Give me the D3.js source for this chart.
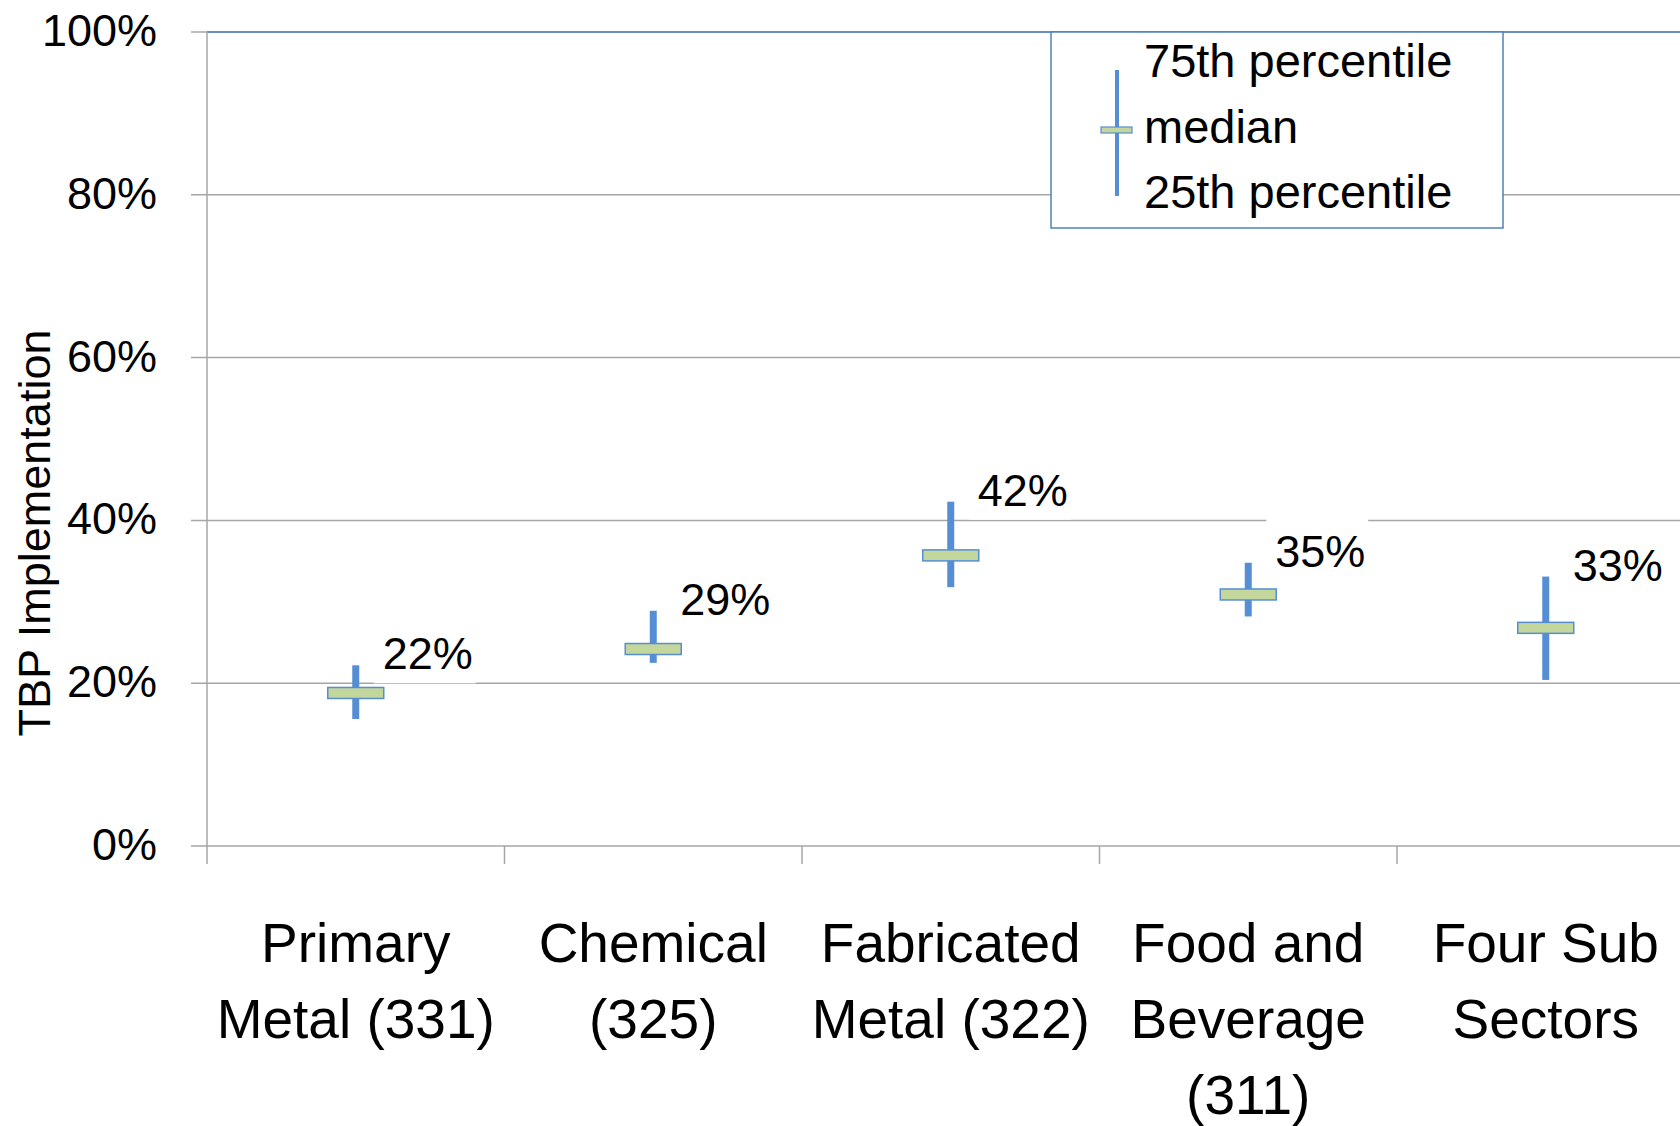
<!DOCTYPE html>
<html>
<head>
<meta charset="utf-8">
<script src="https://cdn.jsdelivr.net/npm/d3@7"></script>
<style>
  body { margin: 0; background: #fff; }
  svg { display: block; font-family: "Liberation Sans", Arial, sans-serif; }
  .grid line { stroke: #a6a6a6; stroke-width: 1.5; }
</style>
</head>
<body>
<script>
// chart values
var categories = ["Primary Metal (331)", "Chemical (325)", "Fabricated Metal (322)", "Food and Beverage (311)", "Four Sub Sectors"];
var categoryLines = [["Primary", "Metal (331)"], ["Chemical", "(325)"], ["Fabricated", "Metal (322)"], ["Food and", "Beverage", "(311)"], ["Four Sub", "Sectors"]];
var p75 = [0.222, 0.289, 0.423, 0.348, 0.331];
var median = [0.188, 0.242, 0.357, 0.309, 0.268];
var p25 = [0.156, 0.225, 0.318, 0.282, 0.204];
var yTicks = [0, 0.2, 0.4, 0.6, 0.8, 1];
var legendLabels = ["75th percentile", "median", "25th percentile"];

var data = categories.map(function(c, i) {
  return {cat: c, lines: categoryLines[i], hi: p75[i], mid: median[i], lo: p25[i]};
});

var W = 1680, H = 1126;
var margin = {top: 32, left: 207, bottom: 280};
var plotW = 297.5 * categories.length,
    plotH = H - margin.top - margin.bottom;

var x = d3.scaleBand().domain(categories).range([0, plotW]);
var y = d3.scaleLinear().domain([0, 1]).range([plotH, 0]);
var pct = d3.format(".0%");

var svg = d3.select("body").append("svg")
    .attr("width", W)
    .attr("height", H);

svg.append("rect").attr("width", W).attr("height", H).attr("fill", "#fff");

var g = svg.append("g")
    .attr("transform", "translate(" + margin.left + "," + margin.top + ")");

// gridlines + left ticks
var grid = g.append("g").attr("class", "grid");
grid.selectAll("line")
    .data(yTicks)
  .enter().append("line")
    .attr("x1", -16)
    .attr("x2", plotW)
    .attr("y1", function(d) { return y(d); })
    .attr("y2", function(d) { return y(d); });

// top border is blue in the original
g.append("line")
    .attr("x1", 0).attr("x2", plotW)
    .attr("y1", y(1)).attr("y2", y(1))
    .attr("stroke", "#4f81bd").attr("stroke-width", 1.5);

g.selectAll(".ylab")
    .data(yTicks)
  .enter().append("text")
    .attr("class", "ylab")
    .attr("x", -50)
    .attr("y", function(d) { return y(d) + 14; })
    .attr("text-anchor", "end")
    .style("font-size", "45px")
    .attr("fill", "#000")
    .text(pct);

// y axis line
g.append("line")
    .attr("x1", 0).attr("x2", 0)
    .attr("y1", 0).attr("y2", plotH)
    .attr("stroke", "#a6a6a6").attr("stroke-width", 1.5);

// x axis ticks at category boundaries
var bounds = categories.map(function(c) { return x(c); });
g.selectAll(".xtick")
    .data(bounds)
  .enter().append("line")
    .attr("class", "xtick")
    .attr("x1", function(d) { return d; })
    .attr("x2", function(d) { return d; })
    .attr("y1", plotH)
    .attr("y2", plotH + 18)
    .attr("stroke", "#a6a6a6").attr("stroke-width", 1.5);

// category labels
var catG = g.selectAll(".cat")
    .data(data)
  .enter().append("text")
    .attr("class", "cat")
    .attr("text-anchor", "middle")
    .style("font-size", "55px")
    .attr("fill", "#000");
catG.selectAll("tspan")
    .data(function(d) { return d.lines.map(function(l) { return {l: l, x: x(d.cat) + x.bandwidth() / 2}; }); })
  .enter().append("tspan")
    .attr("x", function(d) { return d.x; })
    .attr("y", function(d, i) { return plotH + 116 + i * 76; })
    .text(function(d) { return d.l; });

// y axis title
svg.append("text")
    .attr("transform", "translate(50,533) rotate(-90)")
    .attr("text-anchor", "middle")
    .style("font-size", "45px")
    .attr("fill", "#000")
    .text("TBP Implementation");

var cx = function(d) { return x(d.cat) + x.bandwidth() / 2; };

// hi-lo lines
g.selectAll(".hilo")
    .data(data)
  .enter().append("line")
    .attr("class", "hilo")
    .attr("x1", cx).attr("x2", cx)
    .attr("y1", function(d) { return y(d.hi); })
    .attr("y2", function(d) { return y(d.lo); })
    .attr("stroke", "#558ed5")
    .attr("stroke-width", 7);

// median boxes
g.selectAll(".med")
    .data(data)
  .enter().append("rect")
    .attr("class", "med")
    .attr("x", function(d) { return cx(d) - 28; })
    .attr("y", function(d) { return y(d.mid) - 5.5; })
    .attr("width", 56)
    .attr("height", 11)
    .attr("fill", "#c3d69b")
    .attr("stroke", "#558ed5")
    .attr("stroke-width", 1.5);

// value labels with white background
var lab = g.selectAll(".vlab")
    .data(data)
  .enter().append("g")
    .attr("class", "vlab")
    .attr("transform", function(d) { return "translate(" + (cx(d) + 27) + "," + (y(d.hi) + 4) + ")"; });
lab.append("rect")
    .attr("x", -9).attr("y", -50)
    .attr("width", 102).attr("height", 64)
    .attr("fill", "#fff");
lab.append("text")
    .style("font-size", "45px")
    .attr("fill", "#000")
    .text(function(d) { return pct(d.hi); });

// legend
var lg = svg.append("g").attr("transform", "translate(1051,32)");
lg.append("rect")
    .attr("width", 452).attr("height", 196)
    .attr("fill", "#fff")
    .attr("stroke", "#4f81bd").attr("stroke-width", 1.5);
lg.append("line")
    .attr("x1", 66).attr("x2", 66)
    .attr("y1", 38).attr("y2", 164)
    .attr("stroke", "#558ed5").attr("stroke-width", 4);
lg.append("rect")
    .attr("x", 50).attr("y", 95)
    .attr("width", 31).attr("height", 6)
    .attr("fill", "#c3d69b")
    .attr("stroke", "#558ed5").attr("stroke-width", 1.2);
lg.selectAll(".ltxt")
    .data(legendLabels)
  .enter().append("text")
    .attr("class", "ltxt")
    .attr("x", 93)
    .attr("y", function(d, i) { return 45 + i * 65.5; })
    .style("font-size", "47px")
    .attr("fill", "#000")
    .text(function(d) { return d; });
</script>
</body>
</html>
